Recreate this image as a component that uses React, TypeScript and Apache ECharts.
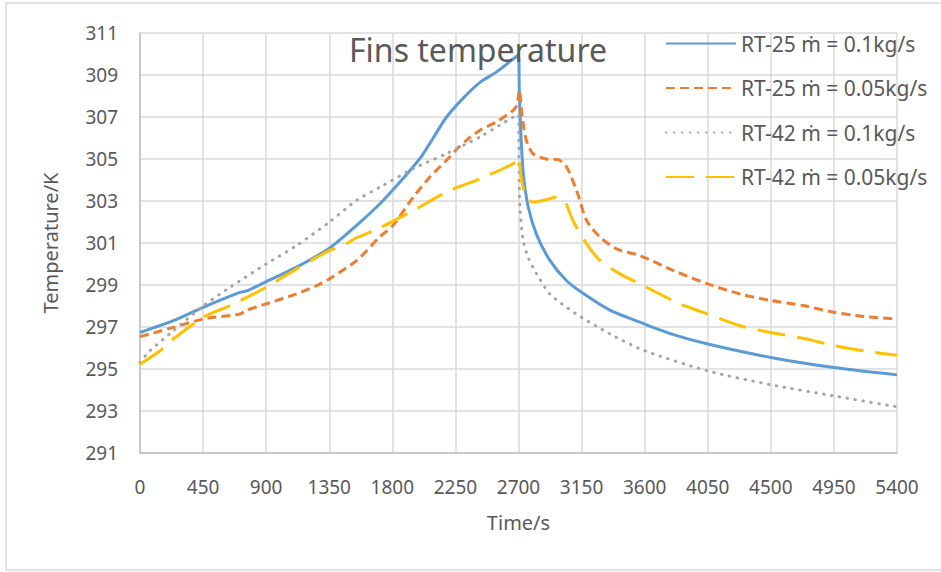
import React, { useEffect, useRef } from "react";
import * as echarts from "echarts";

const xTicks = [0, 450, 900, 1350, 1800, 2250, 2700, 3150, 3600, 4050, 4500, 4950, 5400];
const yTicks = [291, 293, 295, 297, 299, 301, 303, 305, 307, 309, 311];

const seriesNames = [
  "RT-25 ṁ = 0.1kg/s",
  "RT-25 ṁ = 0.05kg/s",
  "RT-42 ṁ = 0.1kg/s",
  "RT-42 ṁ = 0.05kg/s",
];

const rt25FastTime = [0, 238, 450, 713, 760, 900, 1117, 1350, 1545, 1712, 1800, 1900, 2000, 2068, 2187, 2306, 2425, 2544, 2700, 2705, 2715, 2734, 2770, 2829, 2924, 3043, 3150, 3352, 3600, 3800, 4050, 4500, 4950, 5400];
const rt25FastTemp = [296.74, 297.3, 297.94, 298.65, 298.72, 299.16, 299.85, 300.75, 301.84, 302.87, 303.5, 304.25, 305.05, 305.75, 307.0, 307.9, 308.65, 309.15, 309.95, 308.5, 306.5, 304.3, 302.7, 301.4, 300.17, 299.2, 298.65, 297.8, 297.14, 296.65, 296.19, 295.55, 295.07, 294.72];

const rt25SlowTime = [0, 238, 450, 713, 760, 900, 1117, 1260, 1350, 1545, 1712, 1800, 1950, 2068, 2187, 2250, 2330, 2425, 2544, 2663, 2690, 2706, 2727, 2755, 2803, 2898, 2983, 3043, 3114, 3186, 3281, 3400, 3566, 3804, 4050, 4280, 4500, 4731, 4950, 5160, 5400];
const rt25SlowTemp = [296.54, 296.98, 297.38, 297.62, 297.8, 298.1, 298.58, 298.97, 299.29, 300.16, 301.3, 301.8, 303.19, 304.14, 304.94, 305.4, 305.9, 306.37, 306.77, 307.33, 307.6, 308.28, 307.0, 305.9, 305.26, 305.0, 304.97, 304.62, 303.5, 302.07, 301.28, 300.72, 300.4, 299.69, 299.05, 298.57, 298.26, 298.02, 297.7, 297.5, 297.38];

const rt42FastTime = [0, 71, 238, 450, 642, 900, 1117, 1350, 1545, 1712, 1950, 2187, 2425, 2663, 2700, 2703, 2710, 2734, 2770, 2829, 2924, 3043, 3150, 3352, 3600, 4050, 4500, 4950, 5400];
const rt42FastTemp = [295.31, 295.87, 296.82, 298.0, 298.89, 300.0, 300.88, 301.99, 303.03, 303.66, 304.54, 305.26, 306.05, 307.0, 307.1, 305.0, 302.7, 301.1, 300.3, 299.53, 298.57, 297.94, 297.46, 296.67, 295.87, 294.91, 294.25, 293.72, 293.2];

const rt42SlowTime = [0, 143, 238, 450, 642, 900, 1117, 1350, 1450, 1545, 1712, 1950, 2187, 2425, 2663, 2700, 2722, 2755, 2803, 2898, 2969, 3029, 3088, 3186, 3281, 3424, 3566, 3851, 4050, 4280, 4500, 4755, 4950, 5160, 5400];
const rt42SlowTemp = [295.23, 295.87, 296.43, 297.46, 298.02, 298.89, 299.77, 300.64, 300.88, 301.25, 301.72, 302.55, 303.43, 304.06, 304.78, 305.1, 303.98, 303.19, 302.95, 303.06, 303.19, 303.0, 302.07, 300.96, 300.17, 299.53, 299.05, 298.1, 297.62, 297.06, 296.74, 296.43, 296.11, 295.87, 295.65];

const zip = (xs: number[], ys: number[]) => xs.map((x, i) => [x, ys[i]]);

const FONT = "'Noto Sans', 'Open Sans', sans-serif";
const TXT = "#595959";

export default function App() {
  const ref = useRef<HTMLDivElement>(null);
  useEffect(() => {
    if (!ref.current) return;
    const chart = echarts.init(ref.current, undefined, { renderer: "svg" });
    const mk = (name: string, data: number[][], color: string, width: number, type: any, cap: any) => ({
      name,
      type: "line",
      data,
      symbol: "none",
      showSymbol: false,
      smooth: 0.25,
      lineStyle: { color, width, type, cap },
      itemStyle: { color },
      z: 3,
    });
    chart.setOption({
      animation: false,
      backgroundColor: "#ffffff",
      textStyle: { fontFamily: FONT },
      title: {
        text: "Fins temperature",
        left: 344,
        top: 28,
        textStyle: { fontFamily: FONT, fontSize: 32, fontWeight: "normal", color: TXT },
      },
      legend: {
        orient: "vertical",
        left: 660,
        top: 28,
        itemWidth: 70,
        itemHeight: 20,
        itemGap: 23.5,
        itemStyle: { opacity: 0 },
        textStyle: { fontFamily: FONT, fontSize: 21, color: TXT, lineHeight: 20 },
        data: seriesNames,
      },
      grid: { left: 140, right: 44, top: 33, bottom: 119, containLabel: false },
      xAxis: {
        type: "value",
        min: xTicks[0],
        max: xTicks[xTicks.length - 1],
        interval: 450,
        name: "Time/s",
        nameLocation: "middle",
        nameGap: 59,
        nameTextStyle: { fontFamily: FONT, fontSize: 20, color: TXT },
        axisLine: { show: true, lineStyle: { color: "#bfbfbf", width: 1.5 } },
        axisTick: { show: false },
        axisLabel: { fontFamily: FONT, fontSize: 19, color: TXT, margin: 24, formatter: (v: number) => String(v) },
        splitLine: { show: true, lineStyle: { color: "#d9d9d9", width: 1.5 } },
      },
      yAxis: {
        type: "value",
        min: yTicks[0],
        max: yTicks[yTicks.length - 1],
        interval: 2,
        name: "Temperature/K",
        nameLocation: "middle",
        nameGap: 80,
        nameTextStyle: { fontFamily: FONT, fontSize: 20, color: TXT },
        axisLine: { show: true, lineStyle: { color: "#bfbfbf", width: 1.5 } },
        axisTick: { show: false },
        axisLabel: { fontFamily: FONT, fontSize: 19, color: TXT, margin: 22, formatter: (v: number) => String(v) },
        splitLine: { show: true, lineStyle: { color: "#d9d9d9", width: 1.5 } },
      },
      graphic: [
        {
          type: "rect",
          shape: { x: 6, y: 3, width: 960, height: 567 },
          style: { fill: "none", stroke: "#d9d9d9", lineWidth: 1.5 },
          silent: true,
        },
      ],
      series: [
        mk(seriesNames[0], zip(rt25FastTime, rt25FastTemp), "#5b9bd5", 3, "solid", "butt"),
        mk(seriesNames[1], zip(rt25SlowTime, rt25SlowTemp), "#ed7d31", 3, [9, 5], "butt"),
        mk(seriesNames[2], zip(rt42FastTime, rt42FastTemp), "#a5a5a5", 3, [0.5, 7.5], "round"),
        mk(seriesNames[3], zip(rt42SlowTime, rt42SlowTemp), "#ffc000", 3, [28, 12], "butt"),
      ],
    });
    return () => chart.dispose();
  }, []);
  return (
    <div
      ref={ref}
      style={{ position: "fixed", left: 0, top: 0, width: 941, height: 572, background: "#fff" }}
    />
  );
}
